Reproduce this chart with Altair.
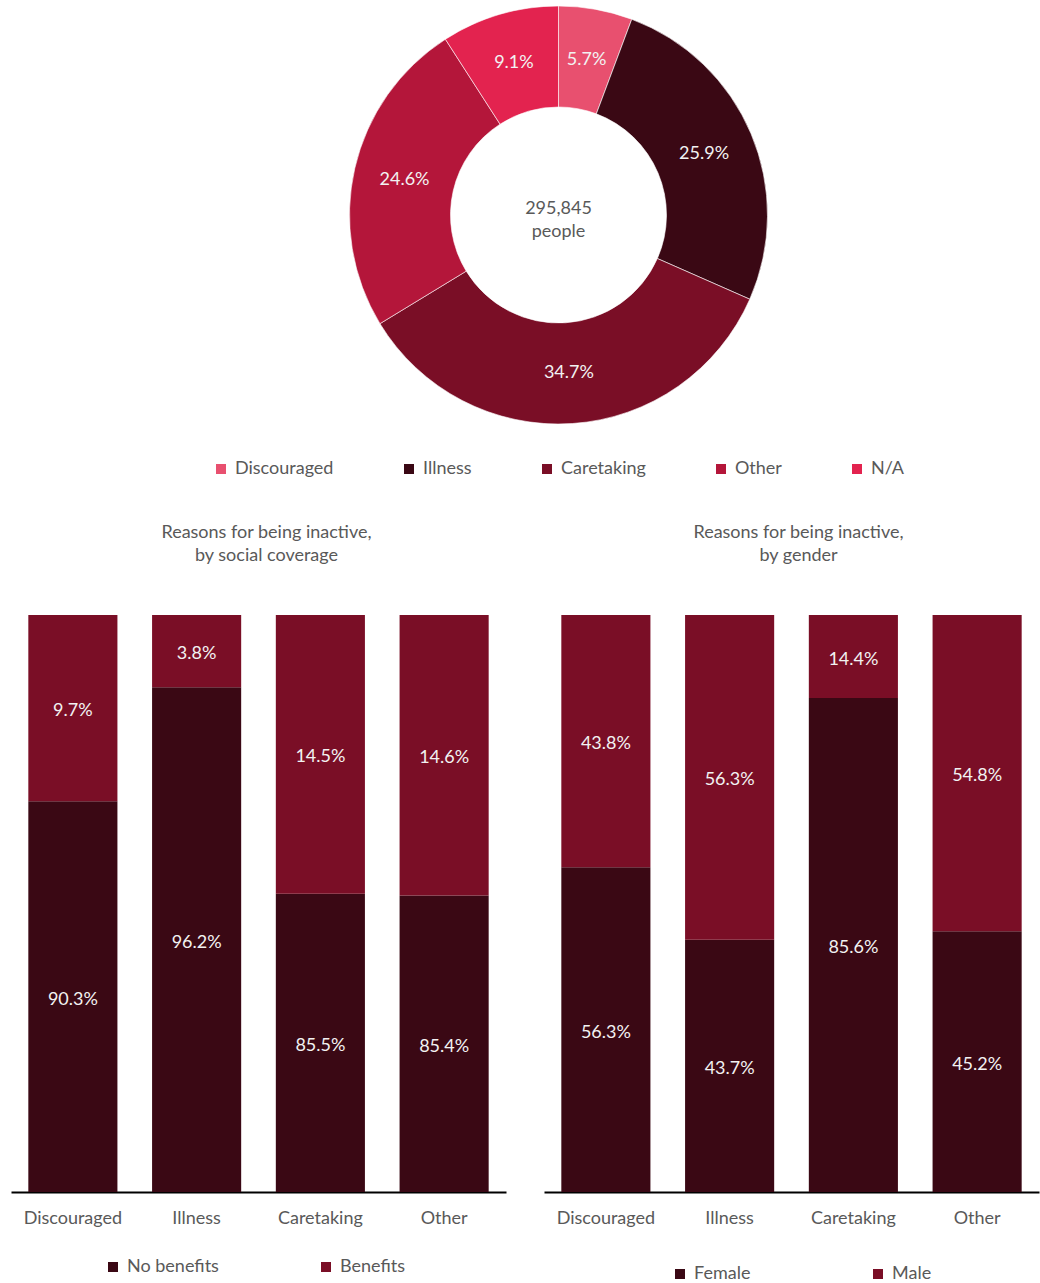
import altair as alt
import pandas as pd

FONT = "Lato"
GREY = "#595959"
LABEL = "#f2f2f2"

# ---- donut data ----
reasons = ["Discouraged", "Illness", "Caretaking", "Other", "N/A"]
reason_share = [5.7, 25.9, 34.7, 24.6, 9.1]
reason_colors = ["#E8506F", "#3A0814", "#7A0E26", "#B4163A", "#E3234F"]
center_lines = ["295,845", "people"]

# ---- bar data ----
categories = ["Discouraged", "Illness", "Caretaking", "Other"]
series_colors = ["#3A0814", "#7A0E26"]

cov_series = ["No benefits", "Benefits"]
cov_no_benefits_label = [90.3, 96.2, 85.5, 85.4]
cov_benefits_label = [9.7, 3.8, 14.5, 14.6]
cov_no_benefits_bar = [67.7, 87.5, 51.7, 51.4]
cov_benefits_bar = [32.3, 12.5, 48.3, 48.6]

gender_series = ["Female", "Male"]
female = [56.3, 43.7, 85.6, 45.2]
male = [43.8, 56.3, 14.4, 54.8]

FS = 18

# ---- donut ----
CX, CY = 547.5, 213
pie_df = pd.DataFrame({
    "reason": reasons,
    "share": reason_share,
    "idx": list(range(len(reasons))),
    "label": [f"{v:.1f}%" for v in reason_share],
})
base = alt.Chart(pie_df).encode(
    theta=alt.Theta("share:Q", stack=True),
    order=alt.Order("idx:Q"),
)
arcs = base.mark_arc(innerRadius=108, outerRadius=209, stroke="white", strokeWidth=0.6).encode(
    x=alt.value(CX), y=alt.value(CY),
    color=alt.Color(
        "reason:N",
        scale=alt.Scale(domain=reasons, range=reason_colors),
        legend=alt.Legend(
            orient="none", legendX=201, legendY=458, direction="horizontal",
            title=None, symbolType="square", symbolSize=100, symbolStrokeWidth=0,
            labelFont=FONT, labelFontSize=FS, labelColor=GREY,
            columnPadding=66, labelOffset=5,
        ),
    ),
)
pie_text = base.mark_text(radius=158, font=FONT, fontSize=FS, color=LABEL).encode(
    x=alt.value(CX), y=alt.value(CY), text="label:N"
)
center = alt.Chart(pd.DataFrame({"k": [0]})).mark_text(
    text=center_lines, font=FONT, fontSize=FS, color=GREY, lineHeight=23,
    baseline="middle", align="center", dy=-6,
).encode(x=alt.value(CX), y=alt.value(CY))

donut = alt.layer(arcs, pie_text, center).properties(width=1029, height=482)


def bar_panel(bottom_bar, top_bar, bottom_lab, top_lab, series, title_lines,
              legend_x, legend_y, col_pad, title_dx):
    rows = []
    for i, c in enumerate(categories):
        rows.append({"cat": c, "series": series[0], "idx": 0,
                     "bar": bottom_bar[i], "label": bottom_lab[i]})
        rows.append({"cat": c, "series": series[1], "idx": 1,
                     "bar": top_bar[i], "label": top_lab[i]})
    df = pd.DataFrame(rows)
    b = alt.Chart(df).transform_stack(
        stack="bar", groupby=["cat"], as_=["y0", "y1"],
        sort=[alt.SortField("idx", order="ascending")],
    ).transform_calculate(
        mid="(datum.y0 + datum.y1) / 2",
        txt="format(datum.label, '.1f') + '%'",
    )
    xscale = alt.Scale(paddingInner=0.28, paddingOuter=0.14)
    yscale = alt.Scale(domain=[0, 100], nice=False, clamp=True)
    xaxis = alt.Axis(
        title=None, labelAngle=0, ticks=False, domainColor="black",
        domainWidth=2, labelPadding=17, labelFont=FONT, labelFontSize=FS,
        labelColor=GREY, grid=False)
    bars = b.mark_bar().encode(
        x=alt.X("cat:N", sort=categories, scale=xscale, axis=xaxis),
        y=alt.Y("y0:Q", scale=yscale, axis=None),
        y2="y1:Q",
        color=alt.Color("series:N", scale=alt.Scale(domain=series, range=series_colors),
                        legend=alt.Legend(
                            orient="none", legendX=legend_x, legendY=legend_y,
                            direction="horizontal", title=None, symbolType="square",
                            symbolSize=100, symbolStrokeWidth=0, labelFont=FONT,
                            labelFontSize=FS, labelColor=GREY, columnPadding=col_pad,
                            labelOffset=5)),
    )
    labels = b.mark_text(font=FONT, fontSize=FS, color=LABEL, baseline="middle", dy=3).encode(
        x=alt.X("cat:N", sort=categories, scale=xscale, axis=xaxis),
        y=alt.Y("mid:Q", scale=yscale, axis=None),
        text="txt:N",
    )
    return alt.layer(bars, labels).properties(
        width=495, height=577,
        title=alt.TitleParams(text=title_lines, font=FONT, fontSize=FS, color=GREY,
                              fontWeight="normal", lineHeight=23, offset=50,
                              anchor="middle", dx=title_dx),
    )


left = bar_panel(cov_no_benefits_bar, cov_benefits_bar, cov_no_benefits_label,
                 cov_benefits_label, cov_series,
                 ["Reasons for being inactive,", "by social coverage"],
                 93, 643, 98, 8)
right = bar_panel(female, male, female, male, gender_series,
                  ["Reasons for being inactive,", "by gender"],
                  127, 650, 118, 7)

row = alt.hconcat(left, right, spacing=38).resolve_scale(color="independent")

chart = alt.vconcat(donut, row, spacing=40).resolve_scale(
    color="independent"
).properties(
    padding={"left": 11, "top": 2, "right": 0, "bottom": 0}
).configure(font=FONT).configure_view(strokeWidth=0, stroke=None)

chart.save("out.html", embed_options={"renderer": "svg", "actions": False})
